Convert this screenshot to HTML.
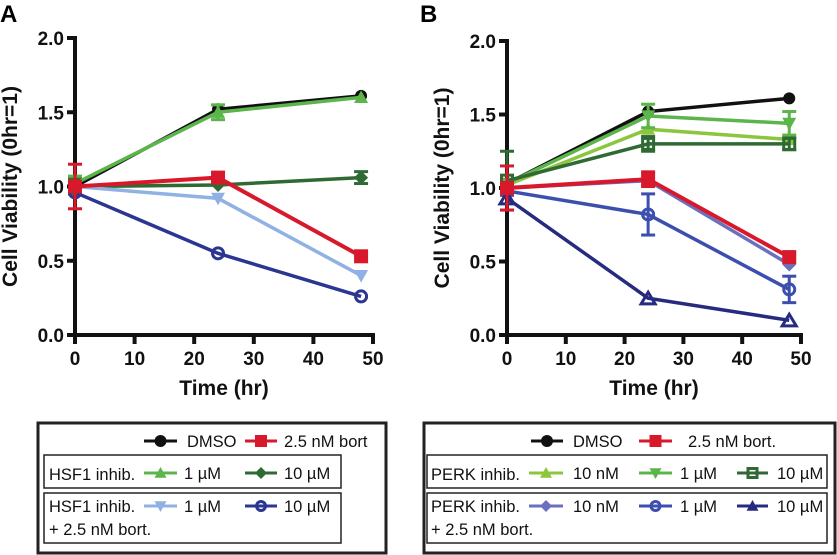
<!DOCTYPE html>
<html><head><meta charset="utf-8">
<style>
html,body{margin:0;padding:0;background:#fff;}
svg{display:block;font-family:"Liberation Sans",Arial,sans-serif;}
.tk{font-size:19px;font-weight:bold;fill:#111;}
.tt{font-size:21px;font-weight:bold;fill:#111;}
.lg{font-size:16.5px;fill:#111;font-family:"Liberation Sans",sans-serif;}
</style></head>
<body>
<svg id="chart" width="837" height="555" viewBox="0 0 837 555"></svg>
<script>
const times=[0,24,48];
const xTicks=[0,10,20,30,40,50];
const yTicks=[0,0.5,1.0,1.5,2.0];
const yTickLabels=["0.0","0.5","1.0","1.5","2.0"];
// Panel A
const aDMSO=[1.0,1.52,1.61];
const aBort=[1.0,1.06,0.53];
const aHsf1=[1.02,1.5,1.6];
const aHsf10=[1.0,1.01,1.06];
const aHsfB1=[1.0,0.92,0.4];
const aHsfB10=[0.96,0.55,0.26];
const aErrBort=[0.15,0.02,0.02];
const aErrHsf1=[0.05,0.05,0.02];
const aErrHsf10=[0.05,0.02,0.04];
// Panel B
const bDMSO=[1.03,1.52,1.61];
const bBort=[1.0,1.06,0.53];
const bP10n=[1.02,1.40,1.33];
const bP1=[1.03,1.49,1.44];
const bP10=[1.05,1.30,1.30];
const bPB10n=[1.0,1.05,0.48];
const bPB1=[0.98,0.82,0.31];
const bPB10=[0.93,0.25,0.1];
const bErrBort=[0.15,0.05,0.02];
const bErrP1=[0.03,0.08,0.08];
const bErrP10=[0.2,0.05,0.04];
const bErrPB1=[0.03,0.14,0.09];

const NS="http://www.w3.org/2000/svg";
const svg=document.getElementById('chart');
function mk(tag,attrs,parent){const e=document.createElementNS(NS,tag);for(const k in attrs)e.setAttribute(k,attrs[k]);(parent||svg).appendChild(e);return e;}

function marker(g,shape,cx,cy,color,s){
  s=s||7;
  if(shape==='circle')mk('circle',{cx:cx,cy:cy,r:s,fill:color},g);
  else if(shape==='ocircle')mk('circle',{cx:cx,cy:cy,r:s-1.5,fill:'none',stroke:color,'stroke-width':3},g);
  else if(shape==='square')mk('rect',{x:cx-s,y:cy-s,width:2*s,height:2*s,fill:color},g);
  else if(shape==='osquare')mk('rect',{x:cx-s+1.5,y:cy-s+1.5,width:2*s-3,height:2*s-3,fill:'none',stroke:color,'stroke-width':3},g);
  else if(shape==='tri')mk('polygon',{points:`${cx},${cy-s} ${cx+s},${cy+s*0.8} ${cx-s},${cy+s*0.8}`,fill:color},g);
  else if(shape==='otri')mk('polygon',{points:`${cx},${cy-s+1} ${cx+s},${cy+s*0.8} ${cx-s},${cy+s*0.8}`,fill:'none',stroke:color,'stroke-width':3},g);
  else if(shape==='dtri')mk('polygon',{points:`${cx},${cy+s} ${cx+s},${cy-s*0.8} ${cx-s},${cy-s*0.8}`,fill:color},g);
  else if(shape==='diamond')mk('polygon',{points:`${cx},${cy-s} ${cx+s},${cy} ${cx},${cy+s} ${cx-s},${cy}`,fill:color},g);
}

function panel(P){
  const g=mk('g',{});
  
  
  const X=v=>P.x0+(P.x1-P.x0)*v/50;
  const Y=v=>P.y0+(P.y1-P.y0)*v/2;
  const ya=mk('line',{x1:P.x0,y1:Y(0)+2,x2:P.x0,y2:Y(2)-2,stroke:'#111','stroke-width':4},g);
  
  const xa=mk('line',{x1:P.x0-2,y1:Y(0),x2:P.x1+2,y2:Y(0),stroke:'#111','stroke-width':4},g);
  
  yTicks.forEach((v,i)=>{
    mk('line',{x1:P.x0-8,y1:Y(v),x2:P.x0,y2:Y(v),stroke:'#111','stroke-width':4},g);
    const t=mk('text',{x:P.x0-11,y:Y(v)+7,'text-anchor':'end',class:'tk'},g);t.textContent=yTickLabels[i];
    
  });
  xTicks.forEach(v=>{
    mk('line',{x1:X(v),y1:Y(0),x2:X(v),y2:Y(0)+9,stroke:'#111','stroke-width':4},g);
    const t=mk('text',{x:X(v),y:Y(0)+30,'text-anchor':'middle',class:'tk'},g);t.textContent=v;
    
  });
  const xt=mk('text',{x:(P.x0+P.x1)/2,y:Y(0)+60,'text-anchor':'middle',class:'tt'},g);xt.textContent='Time (hr)';
  
  const yt=mk('text',{x:0,y:0,'text-anchor':'middle',class:'tt',transform:`translate(${P.x0-58},${(Y(0)+Y(2))/2}) rotate(-90)`},g);yt.textContent='Cell Viability (0hr=1)';
  
  const lb=mk('text',{x:P.lx,y:22,style:'font-size:24px;font-weight:bold'},g);lb.textContent=P.label;
  
  P.series.forEach(s=>{
    const sg=mk('g',{},g);
    
    
    if(s.err){s.vals.forEach((v,i)=>{const e=s.err[i];if(e<0.03)return;
      const x=X(times[i]);
      mk('line',{x1:x,y1:Y(v-e),x2:x,y2:Y(v+e),stroke:s.color,'stroke-width':3},sg);
      mk('line',{x1:x-7,y1:Y(v-e),x2:x+7,y2:Y(v-e),stroke:s.color,'stroke-width':3},sg);
      mk('line',{x1:x-7,y1:Y(v+e),x2:x+7,y2:Y(v+e),stroke:s.color,'stroke-width':3},sg);});}
    mk('polyline',{points:s.vals.map((v,i)=>X(times[i])+','+Y(v)).join(' '),fill:'none',stroke:s.color,'stroke-width':s.w||3.5},sg);
    s.vals.forEach((v,i)=>marker(sg,s.shape,X(times[i]),Y(v),s.color,s.size));
  });
}

const C={black:'#111',red:'#d7192b',green:'#5cb54a',lgreen:'#8cc63f',dgreen:'#2f6a34',lblue:'#8fb1e3',navy:'#2b3592',slate:'#6970be',blue:'#3c4fae',dnavy:'#262b80'};

panel({name:'panel-a',label:'A',lx:0,x0:75,x1:373,y0:335,y1:38,series:[
 {name:'series-dmso',vals:aDMSO,color:C.black,shape:'circle',size:6},
 {name:'series-hsf1-10um',vals:aHsf10,color:C.dgreen,shape:'diamond',err:aErrHsf10},
 {name:'series-hsf1-1um',vals:aHsf1,color:C.green,shape:'tri',err:aErrHsf1},
 {name:'series-hsf1-bort-1um',vals:aHsfB1,color:C.lblue,shape:'dtri'},
 {name:'series-hsf1-bort-10um',vals:aHsfB10,color:C.navy,shape:'ocircle'},
 {name:'series-bort',vals:aBort,color:C.red,shape:'square',err:aErrBort,w:4},
]});
panel({name:'panel-b',label:'B',lx:420,x0:507,x1:801,y0:335,y1:41,series:[
 {name:'series-dmso',vals:bDMSO,color:C.black,shape:'circle',size:6},
 {name:'series-perk-10nm',vals:bP10n,color:C.lgreen,shape:'tri'},
 {name:'series-perk-1um',vals:bP1,color:C.green,shape:'dtri',err:bErrP1},
 {name:'series-perk-10um',vals:bP10,color:C.dgreen,shape:'osquare',err:bErrP10},
 {name:'series-perk-bort-10nm',vals:bPB10n,color:C.slate,shape:'diamond'},
 {name:'series-perk-bort-1um',vals:bPB1,color:C.blue,shape:'ocircle',err:bErrPB1},
 {name:'series-perk-bort-10um',vals:bPB10,color:C.dnavy,shape:'otri'},
 {name:'series-bort',vals:bBort,color:C.red,shape:'square',err:bErrBort,w:4},
]});

function legItem(g,x1,x2,y,color,shape,label,tx){
  mk('line',{x1:x1,y1:y,x2:x2,y2:y,stroke:color,'stroke-width':3},g);
  marker(g,shape,(x1+x2)/2,y,color,6);
  const t=mk('text',{x:tx,y:y+6,class:'lg'},g);t.textContent=label;
}
function box(g,x,y,w,h,sw){mk('rect',{x:x,y:y,width:w,height:h,fill:'none',stroke:'#222','stroke-width':sw},g);}
function txt(g,x,y,s){const t=mk('text',{x:x,y:y,class:'lg'},g);t.textContent=s;}

const la=mk('g',{});


box(la,38,423,348,130,3);
box(la,44,455,297,33,1.5);
box(la,44,493,297,50,1.5);
legItem(la,144,177,441,C.black,'circle','DMSO',187);
legItem(la,245,277,441,C.red,'square','2.5 nM bort',284);
txt(la,49,480,'HSF1 inhib.');
legItem(la,144,177,473,C.green,'tri','1 \u00b5M',184);
legItem(la,245,277,473,C.dgreen,'diamond','10 \u00b5M',284);
txt(la,49,512,'HSF1 inhib.');
legItem(la,144,177,506,C.lblue,'dtri','1 \u00b5M',184);
legItem(la,245,277,506,C.navy,'ocircle','10 \u00b5M',284);
txt(la,49,535,'+ 2.5 nM bort.');

const lb2=mk('g',{});


box(lb2,424,423,411,130,3);
box(lb2,427,455,400,33,1.5);
box(lb2,427,493,400,50,1.5);
legItem(lb2,531,563,441,C.black,'circle','DMSO',573);
legItem(lb2,639,672,441,C.red,'square','2.5 nM bort.',688);
txt(lb2,431,480,'PERK inhib.');
legItem(lb2,529,563,473,C.lgreen,'tri','10 nM',573);
legItem(lb2,639,672,473,C.green,'dtri','1 \u00b5M',680);
legItem(lb2,737,768,473,C.dgreen,'osquare','10 \u00b5M',777);
txt(lb2,431,512,'PERK inhib.');
legItem(lb2,529,563,506,C.slate,'diamond','10 nM',573);
legItem(lb2,639,672,506,C.blue,'ocircle','1 \u00b5M',680);
legItem(lb2,737,768,506,C.dnavy,'tri','10 \u00b5M',777);
txt(lb2,431,535,'+ 2.5 nM bort.');
</script>
</body></html>
